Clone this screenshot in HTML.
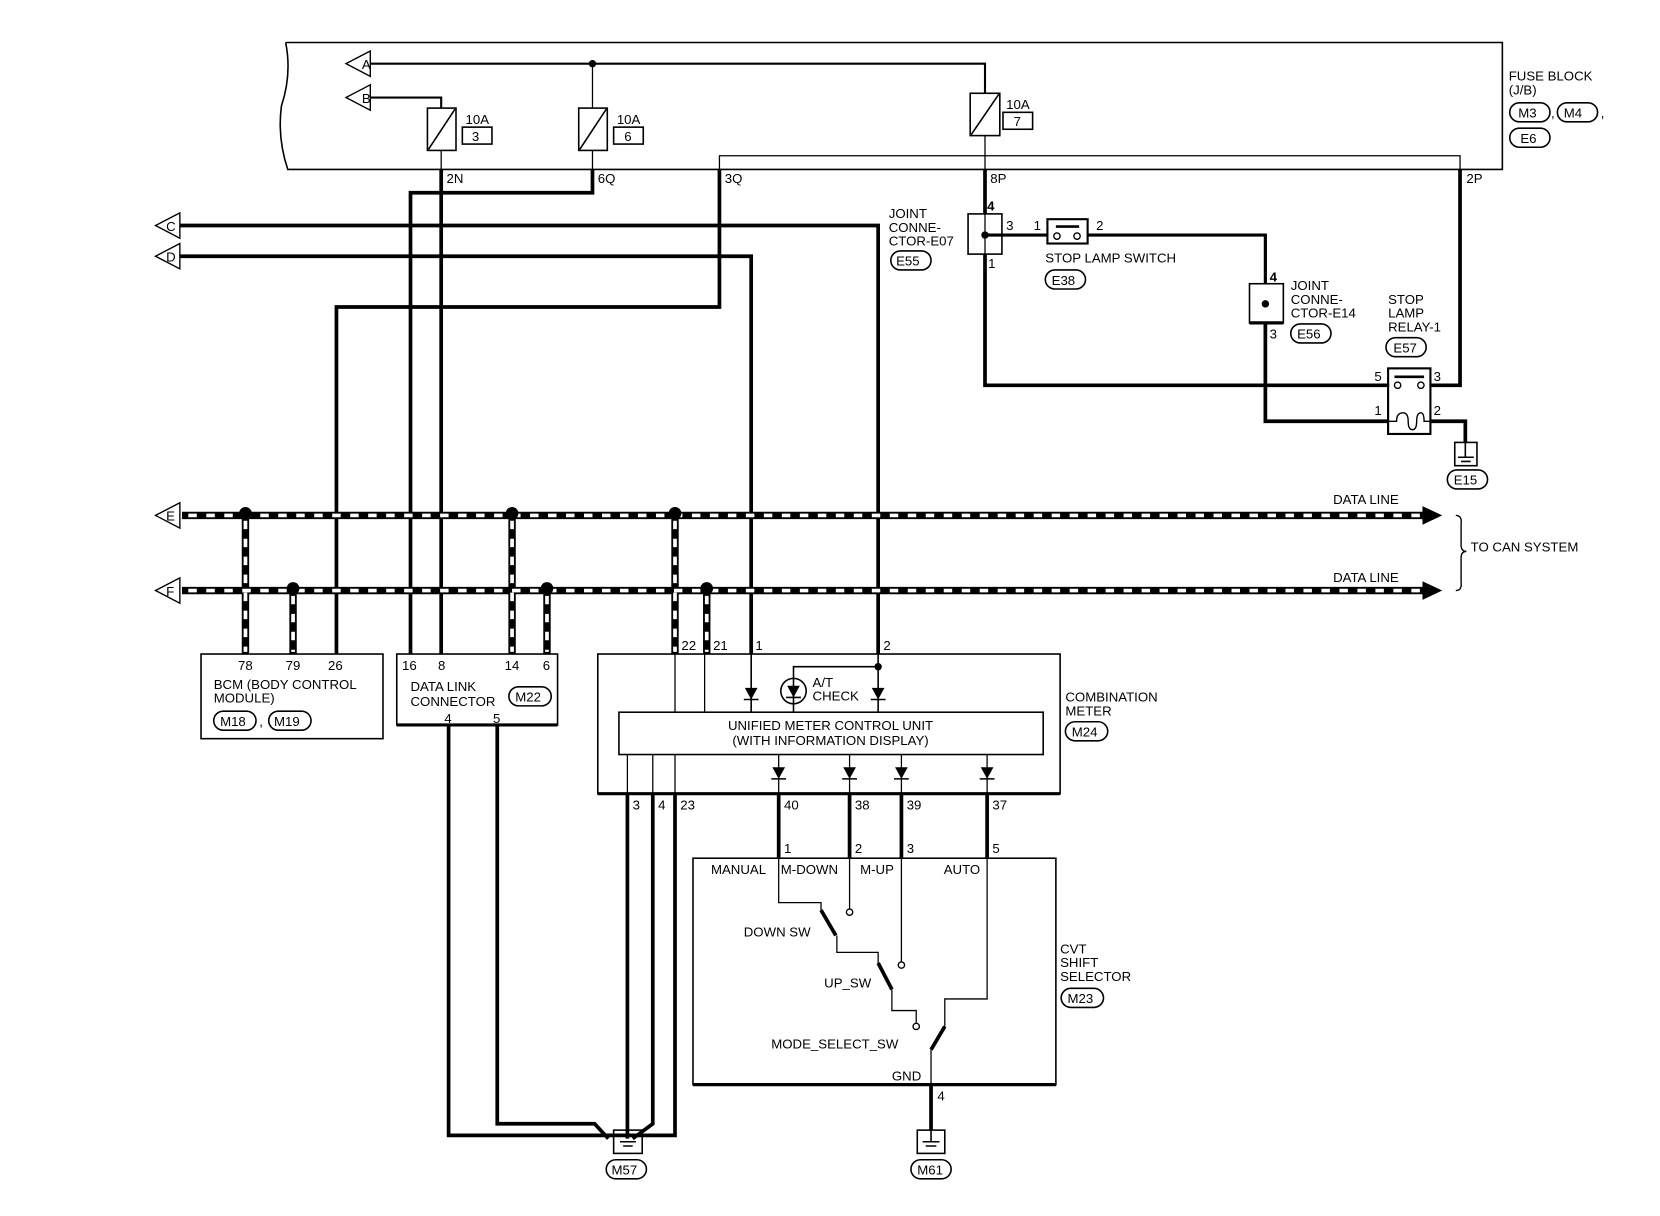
<!DOCTYPE html>
<html><head><meta charset="utf-8"><style>
html,body{margin:0;padding:0;background:#fff;}
svg{display:block}
text{font-family:"Liberation Sans",sans-serif;font-size:12.5px;fill:#000}
</style></head><body>
<svg width="1660" height="1216" viewBox="0 0 1569 1149" xmlns="http://www.w3.org/2000/svg">
<g fill="none" stroke="#000">
<path d="M270,40 L1420,40 L1420,160 L272,160 Q262,130 266,100 Q276,70 270,40" stroke-width="1.5"/>
<path d="M680,160 L680,147 L1380,147 L1380,160" stroke-width="1.2"/>
<path d="M350,60 L931,60 L931,88" stroke-width="2"/>
<path d="M350,92 L417,92 L417,102" stroke-width="2"/>
<path d="M560,60 L560,102" stroke-width="1.2"/>
<rect x="404" y="102" width="27" height="40" stroke-width="1.5"/><path d="M405,141 L430,103" stroke-width="1.5"/>
<rect x="547" y="102" width="27" height="40" stroke-width="1.5"/><path d="M548,141 L573,103" stroke-width="1.5"/>
<rect x="917" y="88" width="28" height="40" stroke-width="1.5"/><path d="M918,127 L944,89" stroke-width="1.5"/>
<path d="M931,128 L931,160 M417,142 L417,160 M560,142 L560,160" stroke-width="1.2"/>
<rect x="437" y="120" width="28" height="16" stroke-width="1.5"/>
<rect x="580" y="120" width="28" height="16" stroke-width="1.5"/>
<rect x="948" y="106" width="28" height="16" stroke-width="1.5"/>
<path d="M350,48 L327,60 L350,72 Z M350,80 L327,92 L350,104 Z M170,201 L147,213 L170,225 Z M170,230 L147,242 L170,254 Z M170,475 L147,487 L170,499 Z M170,546 L147,558 L170,570 Z" stroke-width="1.3" fill="#fff"/>
<path d="M417,160 L417,618" stroke-width="3.5"/>
<path d="M560,160 L560,182 L388,182 L388,618" stroke-width="3.5"/>
<path d="M680,160 L680,290 L318,290 L318,618" stroke-width="3.5"/>
<path d="M170,213 L830,213 L830,618" stroke-width="3.5"/>
<path d="M170,242 L710,242 L710,618" stroke-width="3.5"/>
<path d="M931,160 L931,202" stroke-width="3.5"/>
<path d="M931,240 L931,364 L1313,364" stroke-width="3.5"/>
<path d="M931,222 L990,222" stroke-width="3"/>
<path d="M1028,222 L1196,222 L1196,268" stroke-width="3"/>
<path d="M1196,305 L1196,398 L1313,398" stroke-width="3.5"/>
<path d="M1352,364 L1380,364 L1380,160" stroke-width="3.5"/>
<path d="M1352,398 L1385,398 L1385,418" stroke-width="3.5"/>
<rect x="915" y="202" width="32" height="38" stroke-width="1.5"/>
<path d="M931,202 L931,240" stroke-width="1.2"/>
<rect x="990" y="207" width="38" height="23" stroke-width="2"/>
<path d="M998,214 L1020,214" stroke-width="2.5"/>
<circle cx="999" cy="223" r="3" stroke-width="1.3" fill="#fff"/><circle cx="1018" cy="223" r="3" stroke-width="1.3" fill="#fff"/>
<rect x="1181" y="268" width="32" height="37" stroke-width="1.5"/>
<path d="M1181,305 L1213,305" stroke-width="3"/>
<rect x="1312" y="348" width="40" height="62" stroke-width="2"/>
<path d="M1318,356 L1346,356" stroke-width="2.5"/>
<circle cx="1321" cy="364" r="3" stroke-width="1.3" fill="#fff"/><circle cx="1343" cy="364" r="3" stroke-width="1.3" fill="#fff"/>
<path d="M1313,398 L1320,398 Q1320,390 1326,390 Q1331,390 1331,398 Q1331,406 1335,406 Q1339,406 1339,398 Q1339,390 1343,390 Q1346,390 1346,398 L1352,398" stroke-width="1.3"/>
<rect x="1375" y="418" width="21" height="22" stroke-width="1.5"/>
<path d="M1385,418 L1385,432 M1378,432 L1393,432 M1381,436 L1390,436" stroke-width="1.5"/>
<path d="M1376,487 Q1382,487 1381,495 L1381,515 Q1381,521 1386,521 Q1381,521 1381,527 L1381,550 Q1382,558 1376,558" stroke-width="1.3"/>
<g stroke-width="7">
<path d="M172,487 L1350,487 M172,558 L1350,558"/>
<path d="M232,487 L232,618 M277,558 L277,618 M484,487 L484,618 M517,558 L517,618 M638,487 L638,618 M668,558 L668,618"/>
</g>
<g stroke="#fff" stroke-width="3.5" stroke-dasharray="8,9">
<path d="M178,487 L1345,487 M178,558 L1345,558"/>
<path d="M232,492 L232,616 M277,563 L277,616 M484,492 L484,616 M517,563 L517,616 M638,492 L638,616 M668,563 L668,616"/>
</g>
<path d="M1345,479 L1362,487 L1345,495 Z M1345,550 L1362,558 L1345,566 Z" fill="#000" stroke-width="1"/>
<rect x="190" y="618" width="172" height="80" stroke-width="1.5"/>
<rect x="375" y="618" width="152" height="67" stroke-width="1.5"/>
<path d="M375,685 L527,685" stroke-width="3"/>
<path d="M424,685 L424,1073 L638,1073 L638,750" stroke-width="3.5"/>
<path d="M470,685 L470,1062 L562,1062 L575,1076" stroke-width="3.5"/>
<path d="M593,750 L593,1076 M617,750 L617,1062 L598,1076" stroke-width="3.5"/>
<rect x="565" y="618" width="437" height="132" stroke-width="1.5"/>
<path d="M565,750 L1002,750" stroke-width="3"/>
<rect x="585" y="673" width="401" height="40" stroke-width="1.5"/>
<path d="M638,618 L638,673 M666,618 L666,673 M593,713 L593,750 M617,713 L617,750 M638,713 L638,750" stroke-width="1.2"/>
<path d="M710,618 L710,673 M830,618 L830,673 M830,630 L750,630 L750,673" stroke-width="1.5"/>
<path d="M736,713 L736,750 M803,713 L803,750 M852,713 L852,750 M933,713 L933,750" stroke-width="1.2"/>
<path d="M736,750 L736,811 M803,750 L803,811 M852,750 L852,811 M933,750 L933,811" stroke-width="3.5"/>
<circle cx="750" cy="653" r="12" stroke-width="1.5"/>
<rect x="655" y="811" width="343" height="214" stroke-width="1.5"/>
<path d="M655,1025 L998,1025" stroke-width="3"/>
<path d="M736,811 L736,853 L776,853 L776,860" stroke-width="1.2"/>
<path d="M803,811 L803,859 M852,811 L852,909 M791,884 L791,900 L830,900 L830,910 M843,935 L843,955 L866,955 L866,967 M893,970 L893,944 L933,944 L933,811 M880,992 L880,1025" stroke-width="1.2"/>
<path d="M776,860 L790,884 M830,910 L843,935 M880,992 L893,970" stroke-width="3.5"/>
<circle cx="803" cy="862" r="3" stroke-width="1.3" fill="#fff"/>
<circle cx="852" cy="912" r="3" stroke-width="1.3" fill="#fff"/>
<circle cx="866" cy="970" r="3" stroke-width="1.3" fill="#fff"/>
<path d="M880,1025 L880,1068" stroke-width="3.5"/>
<rect x="580" y="1068" width="27" height="22" stroke-width="1.5"/>
<path d="M586,1079 L601,1079 M589,1083 L598,1083" stroke-width="1.5"/>
<rect x="867" y="1068" width="26" height="22" stroke-width="1.5"/>
<path d="M880,1068 L880,1079 M872,1079 L888,1079 M875,1083 L885,1083" stroke-width="1.5"/>
<g stroke-width="1.5">
<rect x="1427" y="97" width="38" height="18" rx="9"/>
<rect x="1472" y="97" width="38" height="18" rx="9"/>
<rect x="1427" y="121" width="38" height="18" rx="9"/>
<rect x="842" y="237" width="38" height="18" rx="9"/>
<rect x="988" y="255" width="38" height="18" rx="9"/>
<rect x="1220" y="306" width="38" height="18" rx="9"/>
<rect x="1310" y="319" width="38" height="18" rx="9"/>
<rect x="1368" y="444" width="38" height="18" rx="9"/>
<rect x="202" y="672" width="40" height="18" rx="9"/>
<rect x="254" y="672" width="40" height="18" rx="9"/>
<rect x="481" y="649" width="40" height="18" rx="9"/>
<rect x="1007" y="682" width="40" height="18" rx="9"/>
<rect x="1003" y="934" width="40" height="18" rx="9"/>
<rect x="573" y="1096" width="38" height="18" rx="9"/>
<rect x="861" y="1096" width="38" height="18" rx="9"/>
</g>
</g>
<g fill="#000">
<circle cx="560" cy="60" r="3.5"/><circle cx="931" cy="222" r="3.5"/><circle cx="1196" cy="287" r="3.5"/>
<circle cx="232" cy="485" r="6"/><circle cx="484" cy="485" r="6"/><circle cx="638" cy="485" r="6"/>
<circle cx="277" cy="556" r="6"/><circle cx="517" cy="556" r="6"/><circle cx="668" cy="556" r="6"/>
<circle cx="830" cy="630" r="3.5"/>
<path d="M704,650 L716,650 L710,661 Z M824,650 L836,650 L830,661 Z M744,648 L756,648 L750,659 Z M730,725 L742,725 L736,736 Z M797,725 L809,725 L803,736 Z M846,725 L858,725 L852,736 Z M927,725 L939,725 L933,736 Z"/>
</g>
<g stroke="#000" stroke-width="1.5"><path d="M703,661 L717,661 M823,661 L837,661 M743,659 L757,659 M729,736 L743,736 M796,736 L810,736 M845,736 L859,736 M926,736 L940,736"/></g>
<text x="342" y="65" font-size="11">A</text><text x="342" y="97" font-size="11">B</text>
<text x="157" y="218" font-size="11">C</text><text x="157" y="247" font-size="11">D</text>
<text x="157" y="492" font-size="11">E</text><text x="157" y="563" font-size="11">F</text>
<text x="440" y="117">10A</text><text x="446" y="133">3</text>
<text x="583" y="117">10A</text><text x="590" y="133">6</text>
<text x="951" y="103">10A</text><text x="958" y="119">7</text>
<text x="422" y="173">2N</text><text x="565" y="173">6Q</text><text x="685" y="173">3Q</text><text x="936" y="173">8P</text><text x="1386" y="173">2P</text>
<text x="1426" y="76">FUSE BLOCK</text><text x="1426" y="89">(J/B)</text>
<text x="1435" y="111">M3</text><text x="1478" y="111">M4</text><text x="1466" y="111">,</text><text x="1513" y="111">,</text><text x="1437" y="135">E6</text>
<text x="840" y="206">JOINT</text><text x="840" y="219">CONNE-</text><text x="840" y="232">CTOR-E07</text><text x="847" y="251">E55</text>
<text x="933" y="199" font-weight="bold">4</text><text x="951" y="217">3</text><text x="934" y="253">1</text>
<text x="977" y="217">1</text><text x="1036" y="217">2</text>
<text x="988" y="248">STOP LAMP SWITCH</text><text x="994" y="269">E38</text>
<text x="1200" y="266" font-weight="bold">4</text><text x="1200" y="320">3</text>
<text x="1220" y="274">JOINT</text><text x="1220" y="287">CONNE-</text><text x="1220" y="300">CTOR-E14</text><text x="1226" y="320">E56</text>
<text x="1312" y="287">STOP</text><text x="1312" y="300">LAMP</text><text x="1312" y="313">RELAY-1</text><text x="1317" y="333">E57</text>
<text x="1299" y="360">5</text><text x="1355" y="360">3</text><text x="1299" y="392">1</text><text x="1355" y="392">2</text>
<text x="1374" y="458">E15</text>
<text x="1260" y="476">DATA LINE</text><text x="1260" y="550">DATA LINE</text>
<text x="1390" y="521">TO CAN SYSTEM</text>
<text x="225" y="633">78</text><text x="270" y="633">79</text><text x="310" y="633">26</text>
<text x="202" y="651">BCM (BODY CONTROL</text><text x="202" y="664">MODULE)</text>
<text x="208" y="686">M18</text><text x="245" y="686">,</text><text x="259" y="686">M19</text>
<text x="380" y="633">16</text><text x="414" y="633">8</text><text x="477" y="633">14</text><text x="513" y="633">6</text>
<text x="388" y="653">DATA LINK</text><text x="388" y="667">CONNECTOR</text><text x="487" y="663">M22</text>
<text x="420" y="683">4</text><text x="466" y="683">5</text>
<text x="644" y="614">22</text><text x="674" y="614">21</text><text x="714" y="614">1</text><text x="835" y="614">2</text>
<text x="768" y="649">A/T</text><text x="768" y="662">CHECK</text>
<text x="785" y="690" text-anchor="middle">UNIFIED METER CONTROL UNIT</text>
<text x="785" y="704" text-anchor="middle">(WITH INFORMATION DISPLAY)</text>
<text x="1007" y="663">COMBINATION</text><text x="1007" y="676">METER</text><text x="1013" y="696">M24</text>
<text x="598" y="765">3</text><text x="622" y="765">4</text><text x="643" y="765">23</text>
<text x="741" y="765">40</text><text x="808" y="765">38</text><text x="857" y="765">39</text><text x="938" y="765">37</text>
<text x="741" y="806">1</text><text x="808" y="806">2</text><text x="857" y="806">3</text><text x="938" y="806">5</text>
<text x="672" y="826">MANUAL</text><text x="738" y="826">M-DOWN</text><text x="813" y="826">M-UP</text><text x="892" y="826">AUTO</text>
<text x="703" y="885">DOWN  SW</text><text x="779" y="933">UP_SW</text><text x="729" y="991">MODE_SELECT_SW</text><text x="843" y="1021">GND</text>
<text x="886" y="1040">4</text>
<text x="1002" y="901">CVT</text><text x="1002" y="914">SHIFT</text><text x="1002" y="927">SELECTOR</text><text x="1009" y="948">M23</text>
<text x="578" y="1110">M57</text><text x="867" y="1110">M61</text>
</svg>
</body></html>
